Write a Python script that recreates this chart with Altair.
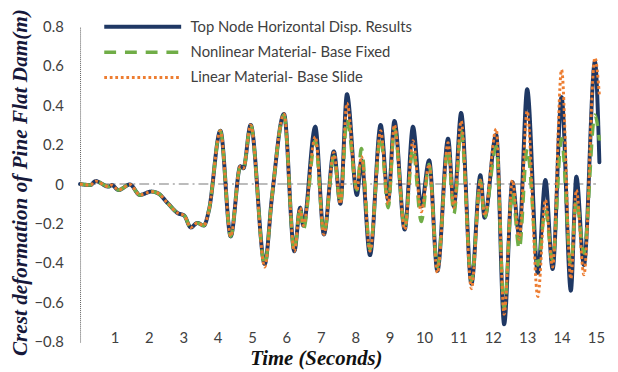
import altair as alt
import pandas as pd

# Shared time instants (s) of the turning points
t = [0.0, 0.3, 0.45, 0.83, 0.92, 1.12, 1.45, 1.74, 2.07, 2.27, 2.55, 2.84, 3.03, 3.22, 3.41, 3.6,
     3.75, 4.08, 4.38, 4.66, 4.75, 4.96, 5.37, 5.58, 5.93, 6.23, 6.40, 6.49, 6.84, 7.09, 7.38,
     7.57, 7.76, 8.05, 8.18, 8.43, 8.74, 8.96, 9.14, 9.44, 9.68, 9.92, 10.15, 10.39, 10.70,
     10.87, 11.08, 11.38, 11.64, 11.76, 12.10, 12.33, 12.57, 12.77, 13.00, 13.31, 13.53,
     13.74, 14.00, 14.27, 14.43, 14.65, 14.97, 15.10]

top_node = [0.0, -0.005, 0.015, -0.013, -0.005, -0.03, -0.002, -0.055, -0.038, -0.047, -0.097,
            -0.147, -0.16, -0.22, -0.197, -0.21, -0.13, 0.27, -0.265, 0.09, 0.08, 0.30, -0.405,
            -0.065, 0.355, -0.34, -0.12, -0.21, 0.29, -0.255, 0.165, -0.10, 0.455, -0.055, 0.12,
            -0.36, 0.30, -0.08, 0.32, -0.23, 0.29, -0.113, 0.12, -0.44, 0.23, -0.113, 0.36,
            -0.505, 0.045, -0.17, 0.25, -0.71, 0.01, -0.26, 0.48, -0.45, 0.02, -0.43, 0.44,
            -0.54, 0.037, -0.41, 0.62, 0.11]

nonlinear_fixed = [0.0, -0.005, 0.015, -0.013, -0.005, -0.03, -0.002, -0.055, -0.038, -0.047,
                   -0.097, -0.147, -0.16, -0.22, -0.197, -0.21, -0.13, 0.27, -0.265, 0.09, 0.08,
                   0.30, -0.41, -0.065, 0.35, -0.34, -0.12, -0.23, 0.22, -0.25, 0.14, -0.10, 0.33,
                   -0.03, 0.18, -0.33, 0.24, -0.12, 0.28, -0.22, 0.18, -0.19, 0.10, -0.42, 0.18,
                   -0.15, 0.27, -0.49, 0.02, -0.17, 0.19, -0.63, -0.04, -0.33, 0.18, -0.41, -0.13,
                   -0.39, 0.23, -0.41, -0.08, -0.35, 0.35, 0.22]

linear_slide = [0.0, -0.005, 0.015, -0.013, -0.005, -0.03, -0.002, -0.055, -0.038, -0.047,
                -0.097, -0.147, -0.16, -0.22, -0.197, -0.21, -0.13, 0.27, -0.265, 0.09, 0.08,
                0.30, -0.42, -0.065, 0.355, -0.34, -0.12, -0.21, 0.24, -0.255, 0.16, -0.10, 0.41,
                -0.03, 0.14, -0.34, 0.27, -0.10, 0.30, -0.23, 0.22, -0.14, 0.10, -0.45, 0.21,
                -0.12, 0.32, -0.53, 0.02, -0.16, 0.28, -0.66, 0.02, -0.28, 0.37, -0.57, -0.08,
                -0.42, 0.58, -0.48, -0.03, -0.46, 0.64, 0.45]

names = ["Top Node Horizontal Disp. Results",
         "Nonlinear Material- Base Fixed",
         "Linear Material- Base Slide"]
colors = ["#1F3864", "#70AD47", "#ED7D31"]
dashes = [[1, 0], [12, 9], [2.8, 2.8]]
caps = ["round", "butt", "butt"]
x_ticks = list(range(1, 16))
y_ticks = [-0.8, -0.6, -0.4, -0.2, 0, 0.2, 0.4, 0.6, 0.8]

rows = []
for name, vals in zip(names, [top_node, nonlinear_fixed, linear_slide]):
    for tt, vv in zip(t, vals):
        rows.append({"time": tt, "disp": vv, "series": name})
df = pd.DataFrame(rows)

x_scale = alt.Scale(domain=[0, 15.15], nice=False, zero=False)
y_scale = alt.Scale(domain=[-0.8, 0.8], nice=False)
x_axis = alt.Axis(values=x_ticks, grid=False, domain=False, ticks=False,
                  labelOverlap=False,
                  labelFont="Lato", labelFontSize=15, labelColor="#404040",
                  labelBaseline="middle", labelPadding=-4,
                  title="Time (Seconds)", titleFont="Liberation Serif",
                  titleFontStyle="italic", titleFontWeight="bold",
                  titleFontSize=21, titleColor="#111111",
                  titleX=239, titleY=17, titleBaseline="middle",
                  titleAlign="center")
y_axis = alt.Axis(values=y_ticks, grid=False, ticks=False, labelOverlap=False,
                  domainColor="#595959", domainDash=[1, 1], domainWidth=1,
                  labelFont="Lato", labelFontSize=15, labelColor="#404040",
                  labelPadding=17,
                  labelExpr="datum.value == 0 ? '0' : format(datum.value, '.1f')",
                  title="Crest deformation of Pine Flat Dam(m)",
                  titleFont="Liberation Serif", titleFontStyle="italic",
                  titleFontWeight="bold", titleFontSize=21.5, titleColor="#16183a",
                  titleAngle=-90, titleX=-60, titleY=158,
                  titleBaseline="middle", titleAlign="center")

legend_opts = dict(title=None, orient="none", legendX=53.5, legendY=-9.5,
                   symbolType="M-5,0H5", symbolSize=243,
                   symbolStrokeWidth=3, labelFont="Lato",
                   labelFontSize=15, labelColor="#404040",
                   labelOffset=38.5, rowPadding=8, padding=0,
                   labelLimit=400,
                   labelExpr="datum.label == 'Linear Material- Base Slide' ? '\u00a0' + datum.label : datum.label")

color_enc = alt.Color("series:N",
                      scale=alt.Scale(domain=names, range=colors),
                      legend=alt.Legend(**legend_opts))
dash_enc = alt.StrokeDash("series:N",
                          scale=alt.Scale(domain=names, range=dashes),
                          legend=alt.Legend(**legend_opts))
width_enc = alt.StrokeWidth("series:N",
                            scale=alt.Scale(domain=names, range=[4, 3, 3]),
                            legend=None)

zero_df = pd.DataFrame({"x0": [0], "x1": [15], "y": [0]})
zero_rule = alt.Chart(zero_df).mark_rule(color="#A6A6A6", strokeWidth=1.5,
                                         strokeDash=[10, 4, 2, 4]).encode(
    x=alt.X("x0:Q", scale=x_scale, axis=x_axis), x2="x1:Q",
    y=alt.Y("y:Q", scale=y_scale, axis=y_axis))

layers = [zero_rule]
for name, cap in zip(names, caps):
    layers.append(
        alt.Chart(df).transform_filter(alt.datum.series == name)
        .mark_line(interpolate="monotone", strokeCap=cap, strokeJoin="round")
        .encode(x=alt.X("time:Q", scale=x_scale, axis=x_axis),
                y=alt.Y("disp:Q", scale=y_scale, axis=y_axis),
                color=color_enc, strokeDash=dash_enc,
                strokeWidth=width_enc, order="time:Q")
    )

chart = alt.layer(*layers).properties(
    width=528, height=320,
    autosize=alt.AutoSizeParams(type="none"),
    padding={"left": 73, "top": 16, "right": 9, "bottom": 28},
    background="white",
).configure_view(stroke=None)

chart.save("out.html", embed_options={"renderer": "svg", "actions": False})
